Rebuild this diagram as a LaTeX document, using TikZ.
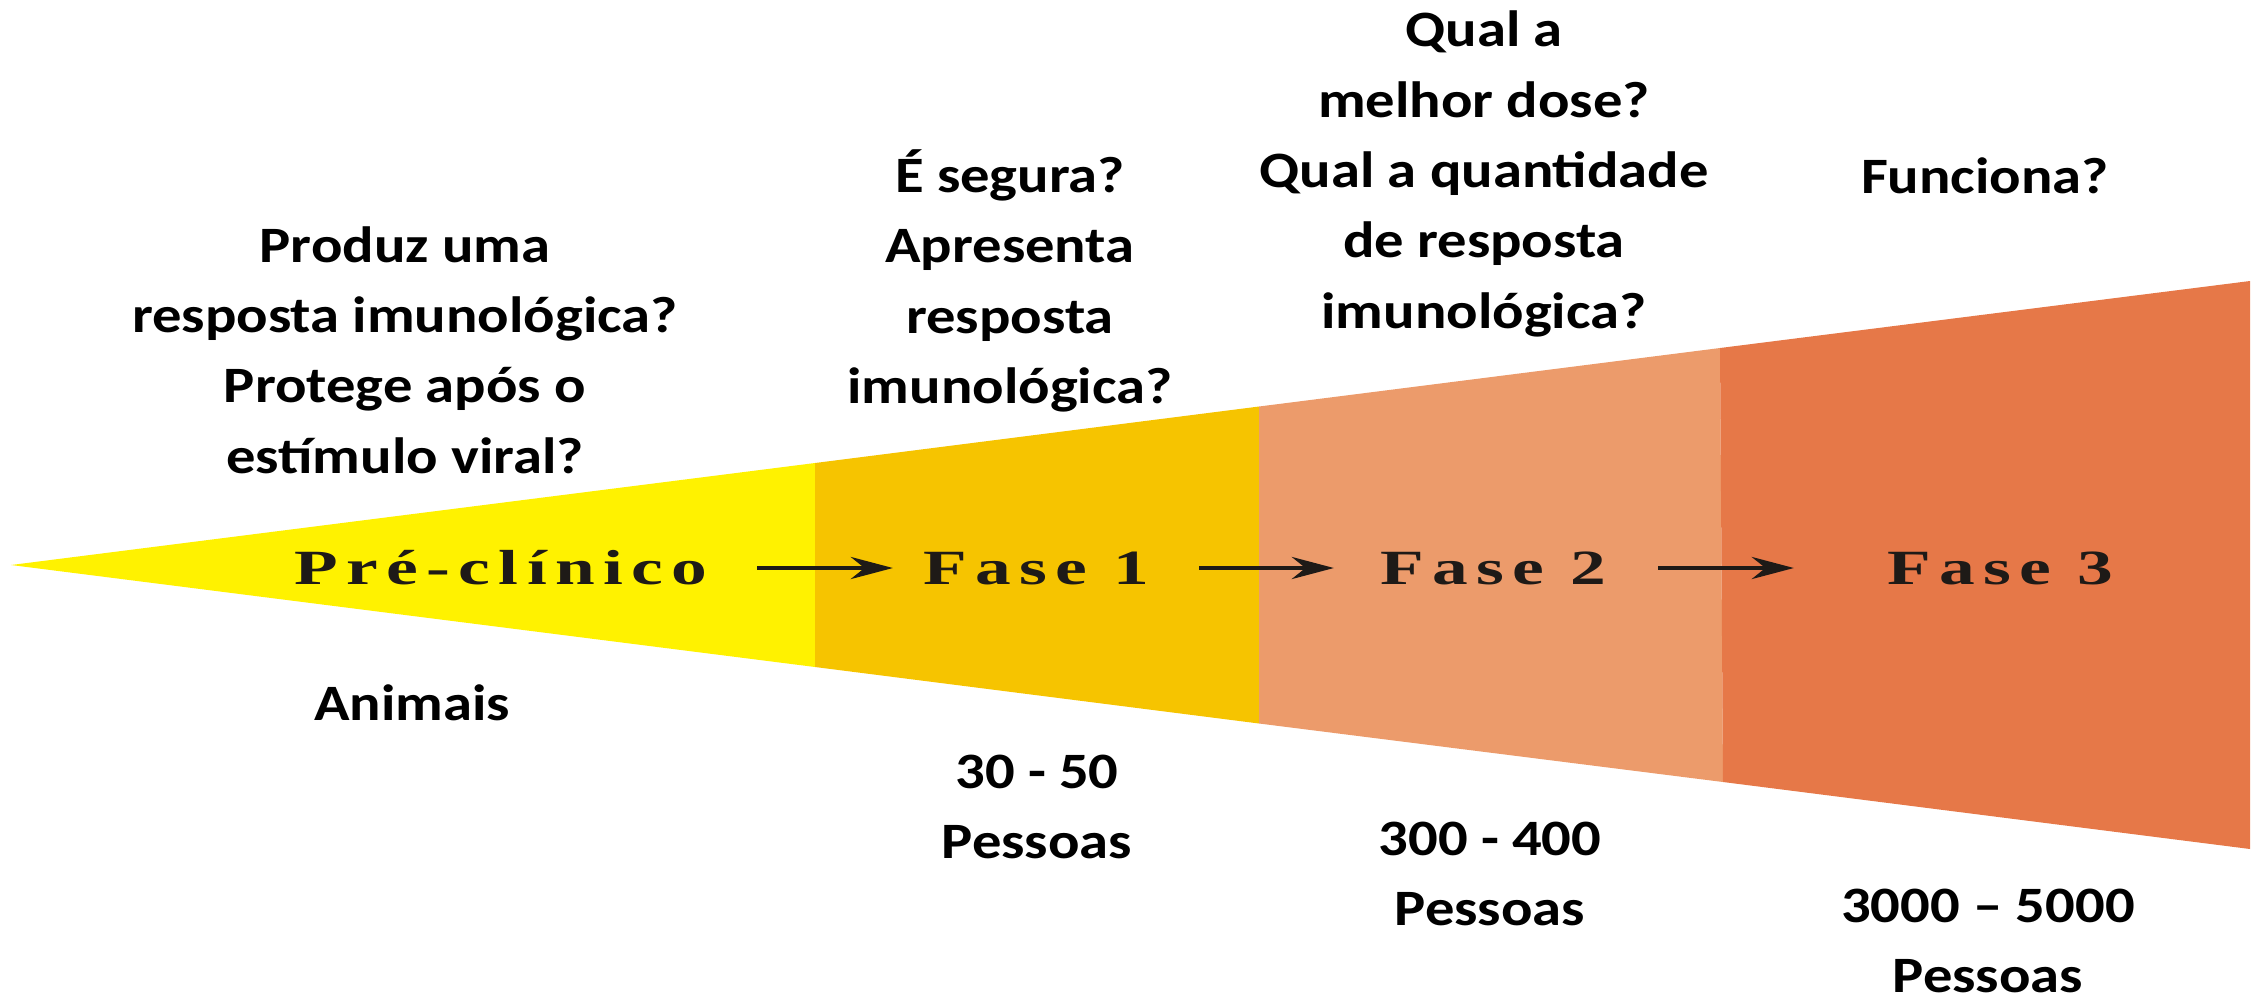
\documentclass[tikz,border=0pt]{standalone}
\usepackage{fontspec}
\setmainfont{Carlito}[FakeStretch=1.15]
\newfontfamily\phasefont[FakeStretch=1.45,LetterSpace=17]{Liberation Serif}
\usepackage{tikz}
\usetikzlibrary{arrows.meta}
\definecolor{preamarelo}{HTML}{FFF200}
\definecolor{faseum}{HTML}{F6C400}
\definecolor{fasedois}{HTML}{EC9B6B}
\definecolor{fasetres}{HTML}{E67848}
\definecolor{tinta}{HTML}{1E1A17}

\begin{document}
\begin{tikzpicture}[
        x=0.01cm, y=-0.01cm,
        >={Stealth[length=4.2mm,width=2.2mm]},
        pergunta/.style={font=\fontsize{14.5}{20}\selectfont\bfseries, align=center},
        fase/.style={font=\phasefont\fontsize{14}{15}\selectfont\bfseries, text=tinta, inner sep=0pt},
        seta/.style={->, line width=1.4pt, draw=tinta}
        ]
        \useasboundingbox (0,0) rectangle (2259,1002);

        \fill[preamarelo] (11,565) -- (815,463) -- (815,667) -- cycle;
        \fill[faseum] (815,463) -- (1259,406.5) -- (1259,723.5) -- (815,667) -- cycle;
        \fill[fasedois] (1259,406.5) -- (1720,348) -- (1723,782) -- (1259,723.5) -- cycle;
        \fill[fasetres] (1720,348) -- (2250,281) -- (2250,849) -- (1723,782) -- cycle;

        \node[fase] (pre) at (501,568) {Pré-clínico};
        \node[fase] (f1) at (1036,568) {Fase 1};
        \node[fase] (f2) at (1493,568) {Fase 2};
        \node[fase] (f3) at (2000,568) {Fase 3};

        \draw[seta, shorten <=25.6mm, shorten >=14.3mm] (pre.center) -- (f1.center);
        \draw[seta, shorten <=16.3mm, shorten >=15.9mm] (f1.center) -- (f2.center);
        \draw[seta, shorten <=16.5mm, shorten >=20.6mm] (f2.center) -- (f3.center);

        \node[pergunta] (q0) at (405,350) {Produz uma\\resposta imunológica?\\Protege após o\\estímulo viral?};
        \node[pergunta] (q1) at (1010,281) {É segura?\\Apresenta\\resposta\\imunológica?};
        \node[pergunta] (q2) at (1484,174) {Qual a\\melhor dose?\\Qual a quantidade\\de resposta\\imunológica?};
        \node[pergunta] (q3) at (1985,176) {Funciona?};

        \node[pergunta] (n0) at (412,703) {Animais};
        \node[pergunta] (n1) at (1037,807) {30 - 50\\Pessoas};
        \node[pergunta] (n2) at (1490,874) {300 - 400\\Pessoas};
        \node[pergunta] (n3) at (1988,941) {3000 – 5000\\Pessoas};
\end{tikzpicture}
\end{document}
